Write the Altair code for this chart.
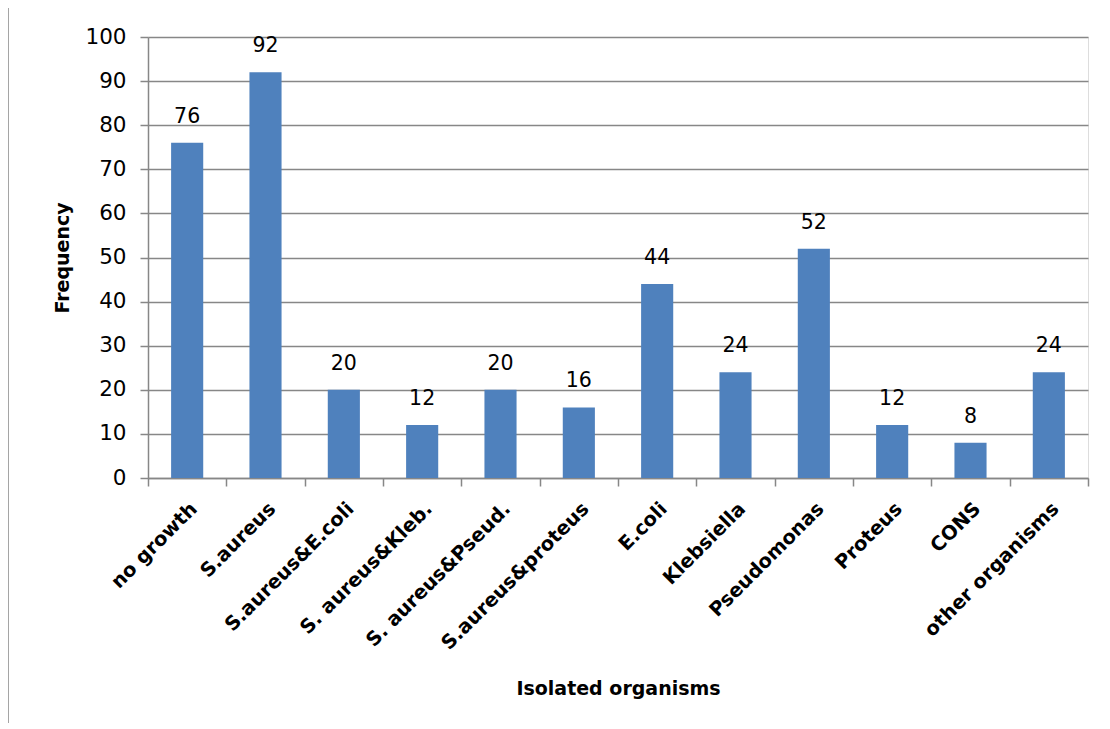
import altair as alt
import pandas as pd

categories = ["no growth", "S.aureus", "S.aureus&E.coli", "S. aureus&Kleb.",
              "S. aureus&Pseud.", "S.aureus&proteus", "E.coli", "Klebsiella",
              "Pseudomonas", "Proteus", "CONS", "other organisms"]
values = [76, 92, 20, 12, 20, 16, 44, 24, 52, 12, 8, 24]

df = pd.DataFrame({"organism": categories, "freq": values})

FONT = "DejaVu Sans"
GRAY = "#878787"

x = alt.X(
    "organism:N", sort=categories,
    scale=alt.Scale(paddingInner=0, paddingOuter=0),
    axis=alt.Axis(
        title="Isolated organisms", titleFont=FONT, titleFontSize=19,
        titleFontWeight="bold", titleColor="black",
        titleX=470, titleY=210, titleBaseline="middle", titleAnchor="middle",
        labelAngle=-45, labelFont=FONT, labelFontSize=19.5, labelFontWeight="bold",
        labelColor="black", labelPadding=13, labelOverlap=False, labelLimit=0,
        tickBand="extent", tickSize=8, tickColor=GRAY, tickWidth=1.5,
        domainColor=GRAY, domainWidth=1.5, grid=False,
    ),
)
y = alt.Y(
    "freq:Q",
    scale=alt.Scale(domain=[0, 100], nice=False),
    axis=alt.Axis(
        title="Frequency", titleFont=FONT, titleFontSize=19, titleFontWeight="bold",
        titleColor="black", titleX=-86, titleY=220.5, titleBaseline="middle",
        titleAngle=-90,
        values=list(range(0, 101, 10)), labelFont=FONT, labelFontSize=21.5,
        labelColor="black", labelPadding=14, tickSize=8, tickColor=GRAY,
        tickWidth=1.5, domainColor=GRAY, domainWidth=1.5,
        grid=True, gridColor=GRAY, gridWidth=1.5,
    ),
)

base = alt.Chart(df)
bars = base.mark_bar(color="#4F81BD", width=alt.RelativeBandSize(0.41)).encode(x=x, y=y)
labels = base.mark_text(font=FONT, fontSize=20.5, color="black",
                        baseline="alphabetic", dy=-20).encode(
    x=alt.X("organism:N", sort=categories), y="freq:Q", text="freq:Q")

frame_df = pd.DataFrame({"k": [0]})
frame_left = alt.Chart(frame_df).mark_rule(color=GRAY, strokeWidth=1.5).encode(
    x=alt.value(-140), y=alt.value(-30), y2=alt.value(720))
frame_top = alt.Chart(frame_df).mark_rule(color=GRAY, strokeWidth=1.5).encode(
    x=alt.value(-140), x2=alt.value(960), y=alt.value(-30))

chart = alt.layer(bars, labels, frame_left, frame_top).properties(
    width=940, height=441,
    autosize=alt.AutoSizeParams(type="none"),
    padding={"left": 140, "top": 29, "right": 10, "bottom": 245},
).configure_view(stroke=None).configure(background="white")

chart.save("out.html", embed_options={"renderer": "svg", "actions": False})
